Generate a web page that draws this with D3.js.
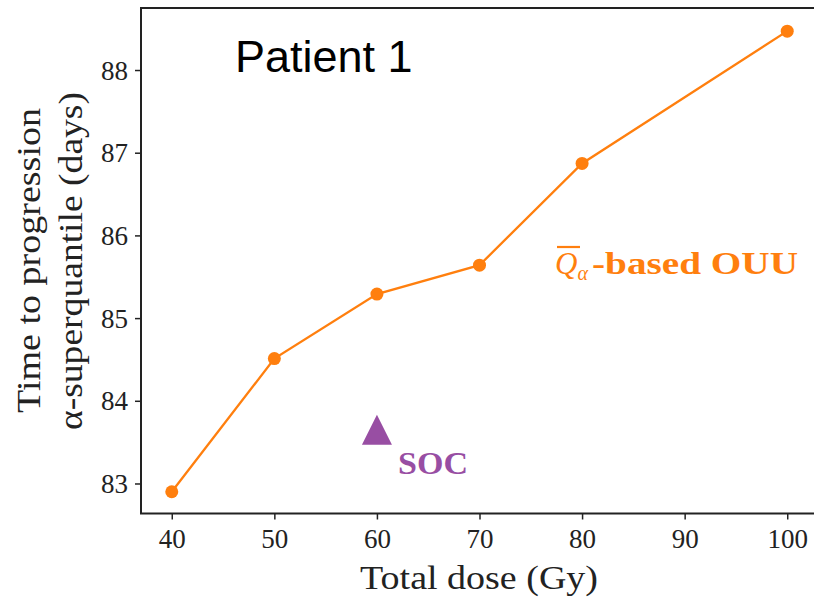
<!DOCTYPE html>
<html><head><meta charset="utf-8">
<script src="https://cdn.jsdelivr.net/npm/d3@7"></script>
<style>body{margin:0;background:#fff;} svg{display:block;}</style>
</head><body>
<svg id="c" width="814" height="599"></svg>
<script>
const doses = [40, 50, 60, 70, 80, 100];
const ouuValues = [82.90, 84.51, 85.29, 85.64, 86.87, 88.47];
const socDose = [60];
const socValue = [83.65];
const xTicks = [40, 50, 60, 70, 80, 90, 100];
const yTicks = [83, 84, 85, 86, 87, 88];

const orange = "#ff7f0e", purple = "#984ea3";
const serif = "'Liberation Serif','DejaVu Serif',serif";
const svg = d3.select("#c");
const L = 141, R = 818, T = 8, B = 513.5;
const x = d3.scaleLinear().domain([37, 103]).range([L, R]);
const y = d3.scaleLinear().domain([82.637, 88.75]).range([B, T]);

// spines
svg.append("path").attr("d", `M${R},${T}H${L}V${B}H${R}`).attr("fill", "none")
  .attr("stroke", "#222").attr("stroke-width", 2);

const xAxis = svg.append("g").attr("transform", `translate(0,${B})`)
  .call(d3.axisBottom(x).tickValues(xTicks).tickSize(6).tickPadding(9).tickFormat(d3.format("d")));
const yAxis = svg.append("g").attr("transform", `translate(${L},0)`)
  .call(d3.axisLeft(y).tickValues(yTicks).tickSize(6).tickPadding(7).tickFormat(d3.format("d")));
[xAxis, yAxis].forEach(a => {
  a.select(".domain").remove();
  a.selectAll(".tick line").attr("stroke", "#222").attr("stroke-width", 1.5);
  a.selectAll(".tick text").attr("font-family", serif).attr("font-size", 27).attr("fill", "#222");
});
yAxis.selectAll(".tick text").attr("dy", "0.34em");

// line
const pts = doses.map((d, i) => [d, ouuValues[i]]);
svg.append("path").datum(pts).attr("fill", "none").attr("stroke", orange).attr("stroke-width", 2.3)
  .attr("d", d3.line().x(d => x(d[0])).y(d => y(d[1])));
svg.selectAll("circle.p").data(pts).join("circle").attr("class", "p")
  .attr("cx", d => x(d[0])).attr("cy", d => y(d[1])).attr("r", 6.5).attr("fill", orange);

// SOC triangle
svg.selectAll("path.soc").data(socDose).join("path").attr("class", "soc")
  .attr("transform", (d, i) => `translate(${x(d)},${y(socValue[i])})`)
  .attr("d", "M0,-15L15,15L-15,15Z").attr("fill", purple);

// annotations
svg.append("text").attr("x", 398).attr("y", 474).attr("font-family", serif).attr("font-weight", "bold")
  .attr("font-size", 32).attr("fill", purple).attr("textLength", 70).attr("lengthAdjust", "spacingAndGlyphs").text("SOC");

const ann = svg.append("text").attr("x", 555).attr("y", 274).attr("font-family", serif)
  .attr("font-size", 31).attr("fill", orange);
ann.append("tspan").attr("font-style", "italic").text("Q");
ann.append("tspan").attr("font-style", "italic").attr("font-size", 20).attr("dy", 6).text("α");
svg.append("text").attr("x", 592).attr("y", 274).attr("font-family", serif).attr("font-weight", "bold")
  .attr("font-size", 31).attr("fill", orange).attr("textLength", 206).attr("lengthAdjust", "spacingAndGlyphs")
  .text("-based OUU");
svg.append("line").attr("x1", 557).attr("x2", 580).attr("y1", 247).attr("y2", 247)
  .attr("stroke", orange).attr("stroke-width", 2.2);

svg.append("text").attr("x", 235).attr("y", 72).attr("font-family", "'Liberation Sans',Arial,sans-serif")
  .attr("font-size", 45).attr("fill", "#000").text("Patient 1");

// axis labels
svg.append("text").attr("x", 360).attr("y", 589).attr("font-family", serif)
  .attr("font-size", 33).attr("fill", "#222").attr("textLength", 238).attr("lengthAdjust", "spacingAndGlyphs")
  .text("Total dose (Gy)");
const yl = svg.append("g").attr("transform", "translate(0,0) rotate(-90)");
yl.append("text").attr("x", -413).attr("y", 40).attr("font-family", serif)
  .attr("font-size", 33).attr("fill", "#222").attr("textLength", 305).attr("lengthAdjust", "spacingAndGlyphs")
  .text("Time to progression");
yl.append("text").attr("x", -430).attr("y", 82).attr("font-family", serif)
  .attr("font-size", 33).attr("fill", "#222").attr("textLength", 338).attr("lengthAdjust", "spacingAndGlyphs")
  .text("α-superquantile (days)");
</script>
</body></html>
